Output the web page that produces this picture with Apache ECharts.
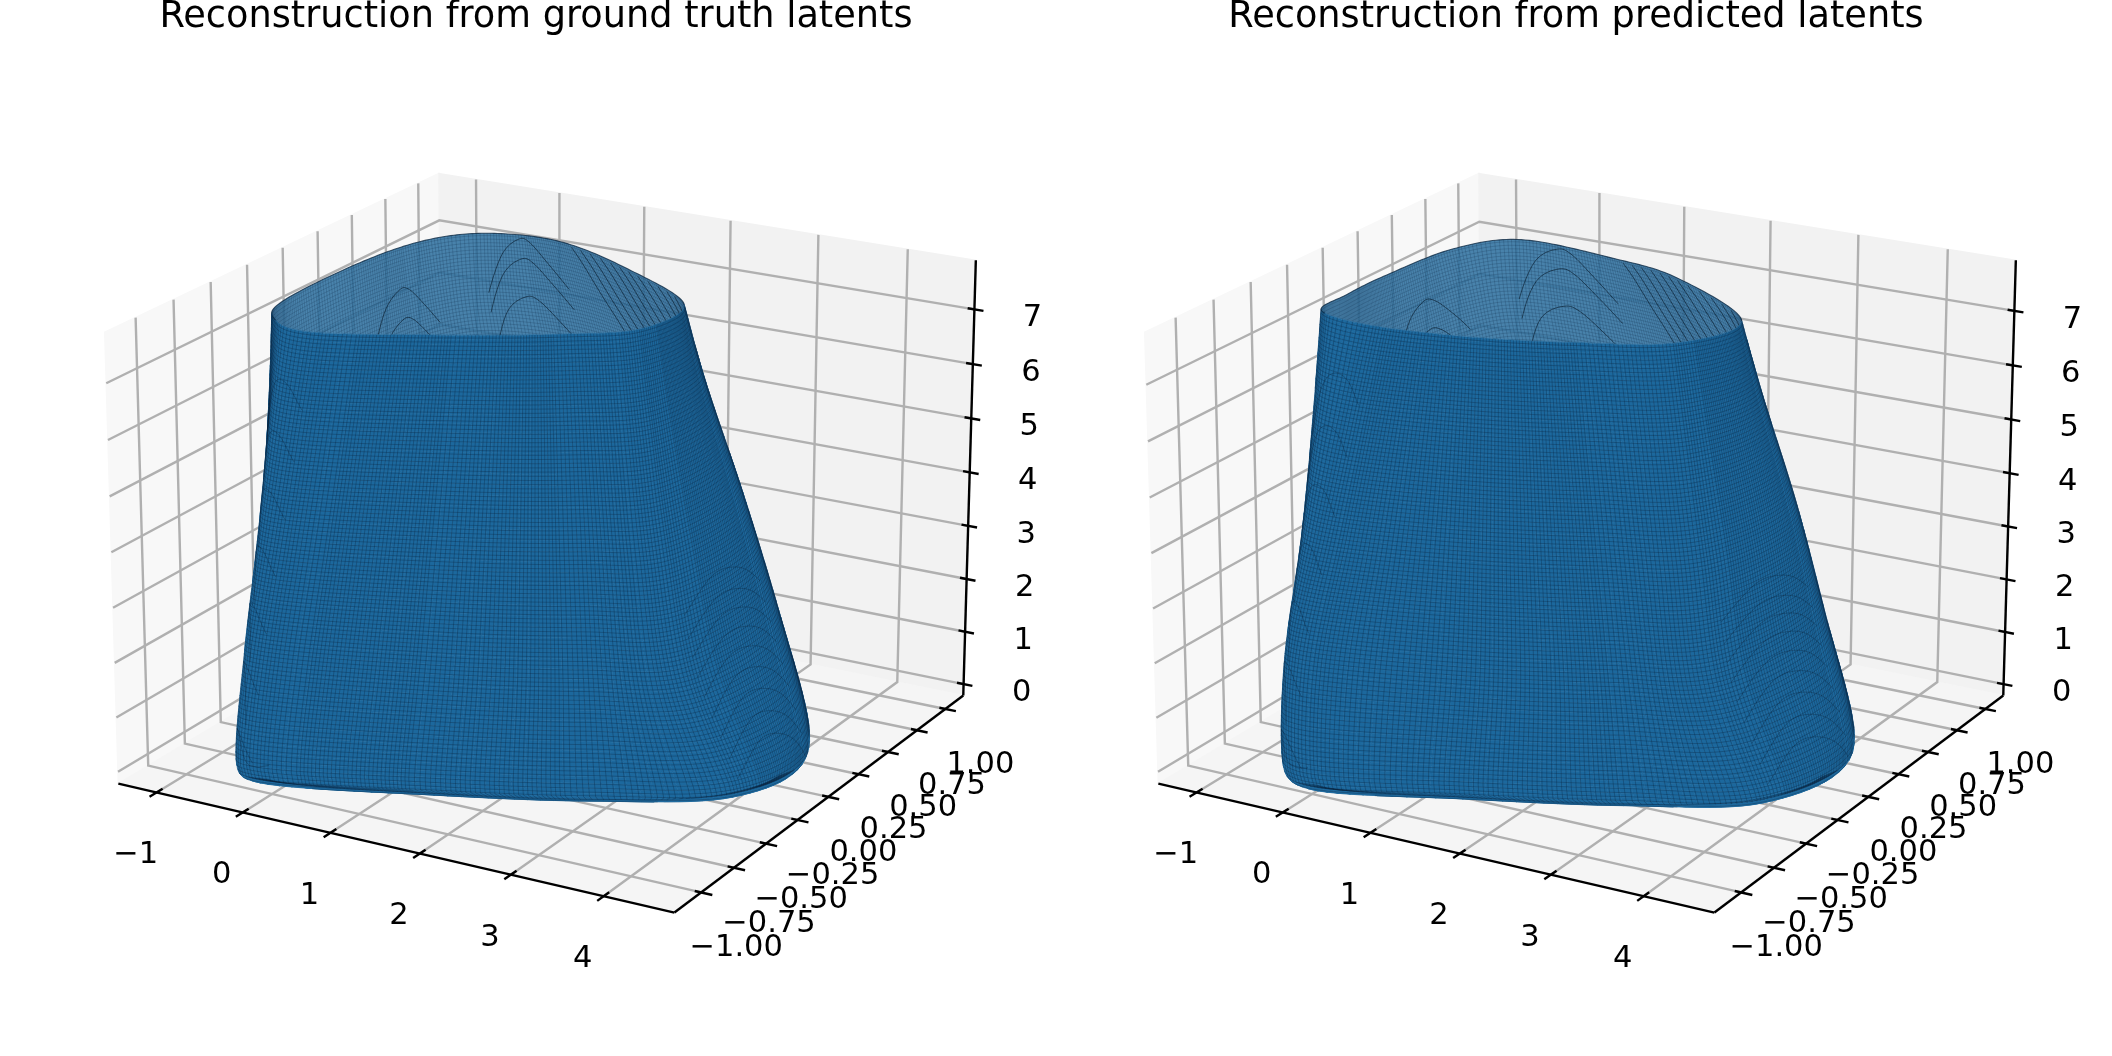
<!DOCTYPE html>
<html><head><meta charset="utf-8">
<style>html,body{margin:0;padding:0;background:#fff}#c{width:2112px;height:1056px}</style>
<script src="https://cdn.jsdelivr.net/npm/echarts@6/dist/echarts.min.js"></script>
</head><body><div id="c"></div>
<script>
const panelTitles=['Reconstruction from ground truth latents','Reconstruction from predicted latents'];
const titleCenters=[531,1571];
const xTicks=[-1,0,1,2,3,4];
const xTickLabels=['−1','0','1','2','3','4'];
const yTicks=[-1,-0.75,-0.5,-0.25,0,0.25,0.5,0.75,1];
const yTickLabels=['−1.00','−0.75','−0.50','−0.25','0.00','0.25','0.50','0.75','1.00'];
const zTicks=[0,1,2,3,4,5,6,7];
const zTickLabels=['0','1','2','3','4','5','6','7'];
const xLim=[-1.45,4.75];
const yLim=[-1.2,1.16];
const zLimA=[-0.22,7.89];
const zLimB=[-0.22,7.92];
const elevDeg=20, azimDeg=-60.3, camDist=10;
const boxAspect=[1.1905,1.1905,0.8929];
const planeLimX=[-0.095,0.09], planeLimY=[-0.095,0.09];
const panelCenterX=[549.5,1589.5], panelCenterY=520.5, planeScale=5280;

const levelZ=[0.03,0.35,2,4,6,7.4];
const ringXA=[
 [-.27,.05,1.6,2.95,4.0,4.15,2.9,1.5,.25,-.2,-.43,-.5],
 [-.37,-.05,1.6,3.0,4.17,4.3,3.0,1.5,.2,-.3,-.55,-.62],
 [-.564,-.235,1.458,2.721,3.575,3.6,2.638,1.244,.049,-.421,-.653,-.708],
 [-.642,-.217,1.345,2.443,3.14,3.14,2.198,.933,-.134,-.568,-.778,-.814],
 [-.72,-.199,1.234,2.167,2.76,2.74,1.759,.624,-.316,-.715,-.902,-.92],
 [-.775,-.186,1.155,1.972,2.51,2.508,1.451,.406,-.36,-.80,-.99,-.995]];
const ringYA=[
 [-.82,-1.0,-.8,-.57,-.28,.12,.72,.87,.87,.72,.28,-.26],
 [-.91,-1.1,-.87,-.63,-.35,.17,.8,.95,.95,.8,.3,-.3],
 [-.761,-.91,-.705,-.483,-.264,.42,.78,.938,.926,.766,.301,-.287],
 [-.654,-.775,-.553,-.342,-.135,.462,.756,.923,.897,.725,.302,-.272],
 [-.546,-.642,-.401,-.201,-.006,.441,.732,.908,.868,.685,.303,-.256],
 [-.471,-.548,-.295,-.102,.084,.426,.715,.897,.86,.67,.304,-.245]];
const ringXB=[
 [-.27,.2,1.55,2.95,4.0,4.2,2.9,1.5,.25,-.2,-.43,-.5],
 [-.41,.11,1.55,2.98,4.15,4.35,3.0,1.5,.2,-.3,-.55,-.62],
 [-.582,-.224,1.362,2.65,3.574,3.70,2.684,1.325,.053,-.417,-.637,-.69],
 [-.681,-.193,1.194,2.346,3.239,3.38,2.301,1.112,-.126,-.559,-.742,-.775],
 [-.78,-.162,1.027,2.043,2.905,3.07,1.919,.899,-.305,-.70,-.846,-.86],
 [-.85,-.14,.91,1.83,2.67,2.88,1.65,.75,-.36,-.8,-.92,-.92]];
const ringYB=[
 [-.84,-1.03,-.85,-.62,-.33,.12,.72,.87,.87,.72,.28,-.26],
 [-.89,-1.13,-.92,-.68,-.42,.17,.8,.95,.95,.8,.3,-.3],
 [-.761,-.905,-.743,-.536,-.318,.40,.765,.903,.904,.741,.26,-.265],
 [-.616,-.729,-.601,-.423,-.219,.396,.722,.846,.849,.67,.212,-.222],
 [-.471,-.553,-.459,-.31,-.12,.34,.68,.79,.794,.60,.164,-.18],
 [-.37,-.43,-.36,-.23,-.05,.30,.65,.75,.785,.55,.13,-.15]];
const rimLeftArcPeaks=[0.9,1.9,2.85,3.8,4.75,5.7,6.55];
const rightCornerArcPeaks=[0.85,1.15,1.45,1.75,2.05,2.35,2.65,2.95,3.3];
const interiorLineStarts=[6.85,6.72,6.58,6.43,6.28,6.14,6.0,5.86,5.72,5.58,5.45,5.32];
const interiorArcCentersU=[7.55,7.55,7.55,9.5,9.5];
const interiorArcPeaks=[7.32,6.95,6.25,6.65,6.1];

const colPaneX='#f8f8f8',colPaneY='#f2f2f2',colPaneZ='#f5f5f5',colGrid='#b0b0b0';
const colWall='#1c689d',colInner='rgba(44,112,160,0.86)',colMeshFront='rgba(6,28,52,0.48)',colMeshInner='rgba(8,30,55,0.30)',colArc='rgba(6,24,40,0.62)';

const rad=Math.PI/180;
const el=elevDeg*rad, az=azimDeg*rad;
const wDir=[Math.cos(el)*Math.cos(az),Math.cos(el)*Math.sin(az),Math.sin(el)];
const uDir=(()=>{const n=Math.hypot(wDir[0],wDir[1]);return [-wDir[1]/n,wDir[0]/n,0];})();
const vDir=[wDir[1]*uDir[2]-wDir[2]*uDir[1],wDir[2]*uDir[0]-wDir[0]*uDir[2],wDir[0]*uDir[1]-wDir[1]*uDir[0]];
const centerW=boxAspect.map(a=>a/2);
const eye=centerW.map((c,i)=>c+camDist*wDir[i]);
const dot=(a,b)=>a[0]*b[0]+a[1]*b[1]+a[2]*b[2];

function cr(a,b,c,d,t){return 0.5*(2*b+(c-a)*t+(2*a-5*b+4*c-d)*t*t+(3*b-a-3*c+d)*t*t*t);}
function makePanel(idx){
  const zLim=idx?zLimB:zLimA, rx=idx?ringXB:ringXA, ry=idx?ringYB:ringYA;
  const N=rx[0].length, L=levelZ.length;
  function world(p){return [(p[0]-xLim[0])/(xLim[1]-xLim[0])*boxAspect[0],(p[1]-yLim[0])/(yLim[1]-yLim[0])*boxAspect[1],(p[2]-zLim[0])/(zLim[1]-zLim[0])*boxAspect[2]];}
  function plane(p){const w=world(p),d=[w[0]-eye[0],w[1]-eye[1],w[2]-eye[2]];const zv=-dot(wDir,d);return [dot(uDir,d)/zv,dot(vDir,d)/zv];}
  function ringVal(arr,u){u=((u%N)+N)%N;const i=Math.floor(u),t=u-i;return cr(arr[(i-1+N)%N],arr[i],arr[(i+1)%N],arr[(i+2)%N],t);}
  function surf(u,v){
    v=Math.max(0,Math.min(L-1.000001,v));const l=Math.floor(v),t=v-l;const ids=[Math.max(0,l-1),l,l+1,Math.min(L-1,l+2)];
    return [cr(...ids.map(k=>ringVal(rx[k],u)),t),cr(...ids.map(k=>ringVal(ry[k],u)),t),cr(...ids.map(k=>levelZ[k]),t)];
  }
  function vAt(z){let a=0,b=L-1.000001;for(let i=0;i<24;i++){const m=(a+b)/2,f=Math.floor(m);if(cr(levelZ[Math.max(0,f-1)],levelZ[f],levelZ[f+1],levelZ[Math.min(L-1,f+2)],m-f)<z)a=m;else b=m;}return a;}
  function front(u,v){const h=0.02;const a=plane(surf(u-h,v)),b=plane(surf(u+h,v)),c=plane(surf(u,v-h)),d=plane(surf(u,v+h));
    return (b[0]-a[0])*(d[1]-c[1])-(b[1]-a[1])*(d[0]-c[0])>0;}
  return {zLim,N,L,world,plane,surf,vAt,front,idx};
}
const panels=[makePanel(0),makePanel(1)];

function meridianUs(P,spacing){
  const us=[];let acc=0,prev=P.world(P.surf(0,2.5));
  for(let u=0.01;u<P.N;u+=0.01){const w=P.world(P.surf(u,2.5));acc+=Math.hypot(w[0]-prev[0],w[1]-prev[1]);prev=w;if(acc>=spacing){us.push(u);acc=0;}}
  return us;
}
function splitRuns(pts,flags,want){const out=[];let cur=[];pts.forEach((p,i)=>{if(flags[i]===want)cur.push(p);else{if(cur.length>1)out.push(cur);cur=[];}});if(cur.length>1)out.push(cur);return out;}
function meshLines(P,want){
  const lines=[],topZ=levelZ[levelZ.length-1],stepsZ=40;
  meridianUs(P,0.0068).forEach(u=>{const pts=[],fl=[];for(let k=0;k<=stepsZ;k++){const z=levelZ[0]+(topZ-levelZ[0])*k/stepsZ;const v=P.vAt(z);pts.push(P.surf(u,v));fl.push(P.front(u,v));}
    lines.push(...splitRuns(pts,fl,want));});
  for(let z=levelZ[0];z<=topZ;z+=0.066){const v=P.vAt(z),pts=[],fl=[];for(let u=0;u<=P.N+1e-6;u+=0.04){pts.push(P.surf(u,v));fl.push(P.front(u,v));}
    lines.push(...splitRuns(pts,fl,want));}
  return lines;
}
function wallFacets(P){
  const f=[],nu=144,nv=60;
  for(let j=0;j<nv;j++)for(let i=0;i<nu;i++){
    const u0=i/nu*P.N,u1=(i+1)/nu*P.N,v0=j/nv*(P.L-1),v1=(j+1)/nv*(P.L-1);
    if(!P.front((u0+u1)/2,(v0+v1)/2))continue;
    f.push([P.surf(u0,v0),P.surf(u1,v0),P.surf(u1,v1),P.surf(u0,v1)]);
  }
  return f;
}
function arcOnSurface(P,du,dz,u0,zp){
  const pts=[],n=du.length;
  for(let i=0;i<n-1;i++){const a=Math.max(0,i-1),d=Math.min(n-1,i+2);
    for(let k=0;k<8;k++){const t=k/8;const u=u0+cr(du[a],du[i],du[i+1],du[d],t),z=zp+cr(dz[a],dz[i],dz[i+1],dz[d],t);
      pts.push(P.surf(u,P.vAt(Math.max(levelZ[0],Math.min(7.38,z)))));}}
  return pts;
}
const bodyArcDu=[-0.45,-0.36,-0.2,0,0.2,0.4];
const bodyArcDz=[-1.1,-0.5,-0.12,0,-0.1,-0.45];
const cornerArcDu=[-0.55,-0.35,-0.2,-0.05,0.1,0.25];
const cornerArcDz=[-0.4,-0.12,0,-0.06,-0.25,-0.6];
const innerArcDu=[-0.5,-0.3,-0.1,0.05,0.3,0.55];
const innerArcDz=[-0.8,-0.4,-0.05,0,-0.3,-1.1];
const innerLineDu=[0,-0.1,-0.25,-0.42,-0.55];
const innerLineDz=[0,-0.25,-0.75,-1.3,-1.9];

const series=[];
function add(gridIdx,items,draw){
  series.push({type:'custom',coordinateSystem:'cartesian2d',xAxisIndex:gridIdx,yAxisIndex:gridIdx,clip:false,silent:true,animation:false,progressive:0,
    data:items.map((_,i)=>[i,0]),encode:{x:0,y:1},renderItem:(p,api)=>draw(items[p.dataIndex],api)});
}
panels.forEach((P,g)=>{
  const [x0,x1]=xLim,[y0,y1]=yLim,[z0,z1]=P.zLim;
  const px=(p,api)=>api.coord(P.plane(p));
  const poly=(pts,fill,api,stroke,lw)=>({type:'polygon',shape:{points:pts.map(p=>px(p,api))},style:{fill,stroke:stroke||null,lineWidth:lw||0}});
  const line=(pts,stroke,lw,api)=>({type:'polyline',shape:{points:pts.map(p=>px(p,api))},style:{fill:null,stroke,lineWidth:lw,lineJoin:'miter'}});
  add(g,[
    [[[x0,y0,z0],[x0,y1,z0],[x0,y1,z1],[x0,y0,z1]],colPaneX],
    [[[x0,y1,z0],[x1,y1,z0],[x1,y1,z1],[x0,y1,z1]],colPaneY],
    [[[x0,y0,z0],[x1,y0,z0],[x1,y1,z0],[x0,y1,z0]],colPaneZ]
  ],(it,api)=>poly(it[0],it[1],api,it[1],1.5));
  const gridLines=[];
  xTicks.forEach(x=>gridLines.push([[x,y0,z0],[x,y1,z0],[x,y1,z1]]));
  yTicks.forEach(y=>gridLines.push([[x1,y,z0],[x0,y,z0],[x0,y,z1]]));
  zTicks.forEach(z=>gridLines.push([[x0,y0,z],[x0,y1,z],[x1,y1,z]]));
  add(g,gridLines,(it,api)=>line(it,colGrid,2.4,api));
  const axisLines=[[[x0,y0,z0],[x1,y0,z0]],[[x1,y0,z0],[x1,y1,z0]],[[x1,y1,z0],[x1,y1,z1]]];
  const dy=(y1-y0),dx=(x1-x0);
  xTicks.forEach(x=>axisLines.push([[x,y0+0.017*dy,z0],[x,y0-0.02*dy,z0]]));
  yTicks.forEach(y=>axisLines.push([[x1-0.011*dx,y,z0],[x1+0.019*dx,y,z0]]));
  zTicks.forEach(z=>axisLines.push([[x1-0.012*dx,y1,z],[x1+0.016*dx,y1,z]]));
  add(g,axisLines,(it,api)=>line(it,'#000',2.4,api));
  const labels=[];
  xTicks.forEach((x,i)=>labels.push([[x,y0,z0],xTickLabels[i],-21,63]));
  yTicks.forEach((y,i)=>labels.push([[x1,y,z0],yTickLabels[i],35,56]));
  zTicks.forEach((z,i)=>labels.push([[x1,y1,z],zTickLabels[i],58,9]));
  add(g,labels,(it,api)=>{const c=px(it[0],api);return {type:'text',style:{x:c[0]+it[2],y:c[1]+it[3],text:it[1],fill:'#000',fontSize:30.5,fontFamily:'DejaVu Sans',align:'center',verticalAlign:'middle',textAlign:'center',textVerticalAlign:'middle'}};});

  const rimPts=[];for(let u=0;u<P.N;u+=0.05)rimPts.push(P.surf(u,P.L-1));
  add(g,[rimPts],(it,api)=>poly(it,colInner,api));
  add(g,meshLines(P,false),(it,api)=>line(it,colMeshInner,0.6,api));
  const inner=[];
  interiorLineStarts.forEach(u=>inner.push(arcOnSurface(P,innerLineDu,innerLineDz,u,7.35)));
  interiorArcCentersU.forEach((u,i)=>inner.push(arcOnSurface(P,innerArcDu,innerArcDz,u,interiorArcPeaks[i])));
  add(g,inner,(it,api)=>line(it,colArc,1,api));
  add(g,wallFacets(P),(it,api)=>poly(it,colWall,api,colWall,0.7));
  add(g,meshLines(P,true),(it,api)=>line(it,colMeshFront,0.6,api));
  const arcs=[];
  rimLeftArcPeaks.forEach(z=>arcs.push(arcOnSurface(P,bodyArcDu,bodyArcDz,0.62,z)));
  rightCornerArcPeaks.forEach(z=>arcs.push(arcOnSurface(P,cornerArcDu,cornerArcDz,4.62,z)));
  add(g,arcs,(it,api)=>line(it,'rgba(6,24,40,0.34)',0.8,api));
  const backRim=[];for(let u=5;u<=12.2;u+=0.05)backRim.push(P.surf(u,P.L-1));
  add(g,[backRim],(it,api)=>line(it,'rgba(8,35,60,0.75)',1.1,api));
});

const side=planeScale*(planeLimX[1]-planeLimX[0]);
const sideY=planeScale*(planeLimY[1]-planeLimY[0]);
const chart=echarts.init(document.getElementById('c'),null,{renderer:'canvas'});
chart.setOption({
  animation:false,backgroundColor:'#fff',
  title:panelTitles.map((t,i)=>({text:t,left:titleCenters[i],top:-6,textAlign:'center',textStyle:{fontFamily:'DejaVu Sans',fontSize:36.7,fontWeight:'normal',color:'#000'}})),
  grid:panelCenterX.map(c=>({left:c+planeLimX[0]*planeScale,top:panelCenterY-planeLimY[1]*planeScale,width:side,height:sideY,containLabel:false})),
  xAxis:panelCenterX.map((_,i)=>({type:'value',gridIndex:i,min:planeLimX[0],max:planeLimX[1],show:false,scale:true})),
  yAxis:panelCenterX.map((_,i)=>({type:'value',gridIndex:i,min:planeLimY[0],max:planeLimY[1],show:false,scale:true})),
  series
});
</script></body></html>
